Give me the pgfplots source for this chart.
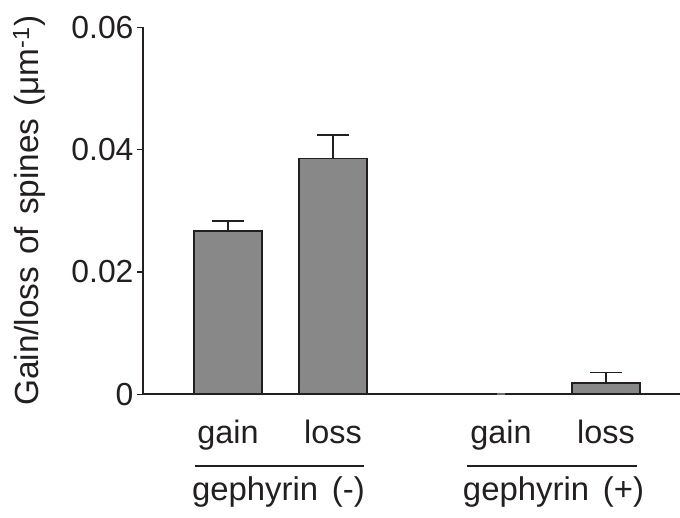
\documentclass[border=0pt]{standalone}
\usepackage{pgfplots}
\pgfplotsset{compat=1.18}
\usepackage{fontspec}
\setmainfont{Liberation Sans}
\definecolor{ink}{HTML}{231F20}
\definecolor{barfill}{HTML}{888888}
\pgfplotstableread{
x y e
228 0.02672 0.00159
333 0.03857 0.00386
606 0.00180 0.00175
}\bars
\begin{document}
\begin{tikzpicture}
\begin{axis}[
 scale only axis, width=537bp, height=367bp,
 xmin=143, xmax=680, ymin=0, ymax=0.06,
 axis x line*=bottom, axis y line*=left,
 axis line style={ink, line width=1.8bp, -},
 xtick=\empty,
 ytick={0,0.02,0.04,0.06}, yticklabels={0,0.02,0.04,0.06},
 scaled y ticks=false,
 /pgf/number format/assume math mode=true,
 tick align=outside, major tick length=6bp,
 tick style={ink, line width=1.6bp},
 tick label style={font=\fontsize{32}{36}\selectfont, text=ink},
 ylabel={Gain/loss\hspace{0.36em}of\hspace{0.36em}spines\hspace{0.36em}(μm\textsuperscript{-1})},
 ylabel style={font=\fontsize{33.5}{38}\selectfont, text=ink, at={(axis description cs:-0.1955,0.5)}, anchor=base, rotate=0},
 clip=false,
 ybar, bar shift=0pt, bar width=68.5,
]
\addplot[ybar, bar shift=0pt, fill=barfill, draw=ink, line width=1.7bp,
  error bars/.cd, y dir=plus, y explicit,
  error bar style={ink, line width=1.6bp},
  error mark options={ink, line width=1.6bp, mark size=16bp, rotate=90}]
  table[x=x, y=y, y error=e] {\bars};
\addplot[ybar, bar shift=0pt, bar width=8, fill=barfill, draw=barfill!80!black, line width=2bp]
  coordinates {(501,0)};
\node[anchor=base, font=\fontsize{32.5}{38}\selectfont, text=ink] at (axis cs:228,-0.008018) {gain};
\node[anchor=base, font=\fontsize{32.5}{38}\selectfont, text=ink] at (axis cs:333,-0.008018) {loss};
\node[anchor=base, font=\fontsize{32.5}{38}\selectfont, text=ink] at (axis cs:501,-0.008018) {gain};
\node[anchor=base, font=\fontsize{32.5}{38}\selectfont, text=ink] at (axis cs:606,-0.008018) {loss};
\draw[ink, line width=1.6bp] (axis cs:195,-0.011732) -- (axis cs:364,-0.011732);
\draw[ink, line width=1.6bp] (axis cs:467,-0.011732) -- (axis cs:637,-0.011732);
\node[anchor=base, font=\fontsize{33}{38}\selectfont, text=ink] at (axis cs:278.5,-0.017344) {gephyrin\hspace{0.42em}(-)};
\node[anchor=base, font=\fontsize{33}{38}\selectfont, text=ink] at (axis cs:553.5,-0.017344) {gephyrin\hspace{0.42em}(+)};
\coordinate (bl) at (axis cs:0,-0.02013);
\coordinate (tr) at (axis cs:680,0.06447);
\end{axis}
\pgfresetboundingbox
\path[use as bounding box] (bl) rectangle (tr);
\end{tikzpicture}
\end{document}
